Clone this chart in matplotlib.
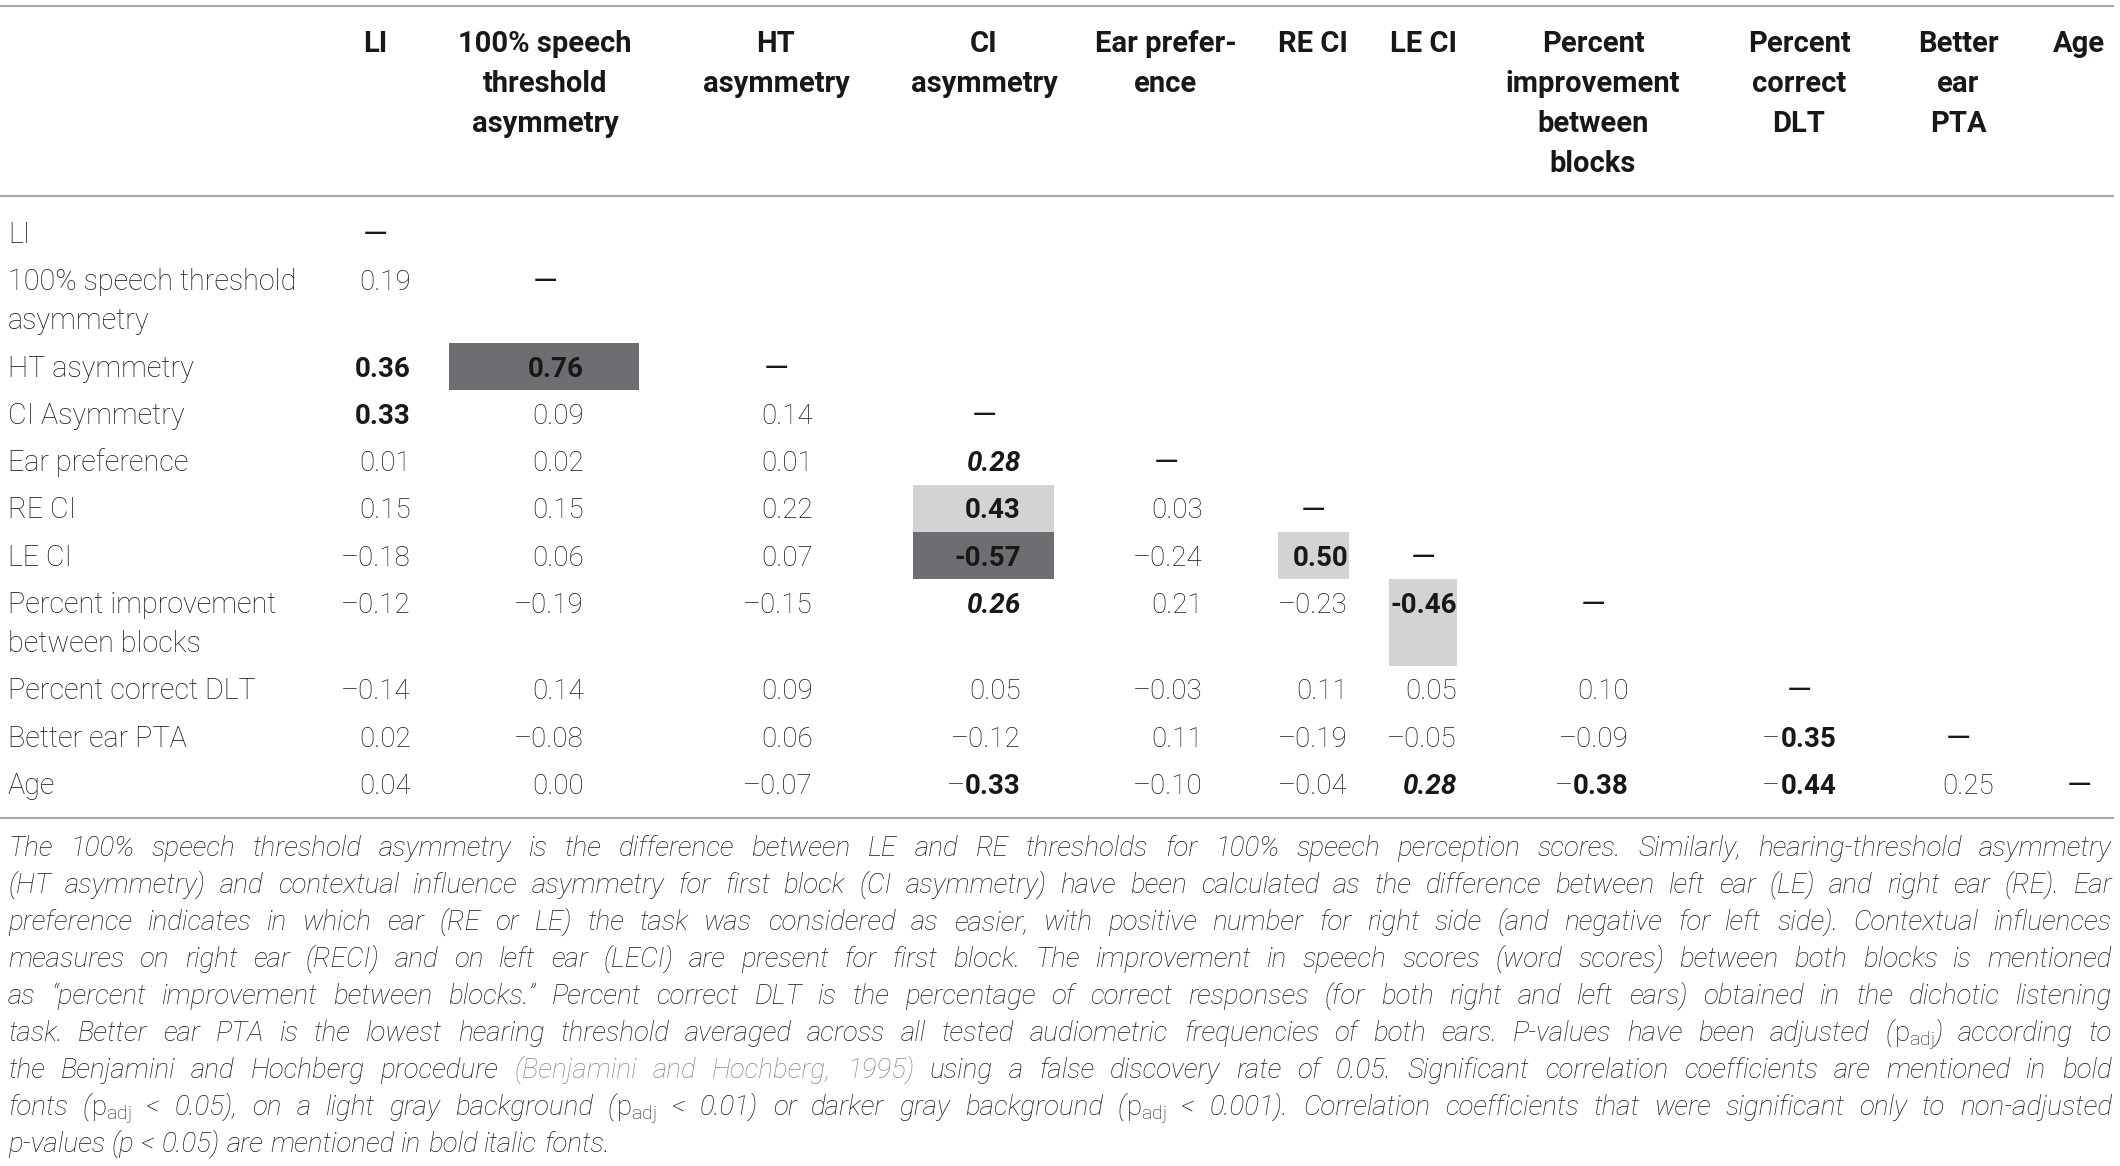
import re
import matplotlib
matplotlib.use("Agg")
import matplotlib.pyplot as plt
from matplotlib.patches import Rectangle

# --- table content -------------------------------------------------------
row_labels = ["LI", "100% speech threshold\nasymmetry", "HT asymmetry", "CI Asymmetry",
              "Ear preference", "RE CI", "LE CI", "Percent improvement\nbetween blocks",
              "Percent correct DLT", "Better ear PTA", "Age"]
col_headers = ["LI", "100% speech\nthreshold\nasymmetry", "HT\nasymmetry", "CI\nasymmetry",
               "Ear prefer-\nence", "RE CI", "LE CI", "Percent\nimprovement\nbetween\nblocks",
               "Percent\ncorrect\nDLT", "Better\near\nPTA", "Age"]

# lower triangle of the correlation matrix (row i, columns 0..i-1)
values = [
    [],
    [0.19],
    [0.36, 0.76],
    [0.33, 0.09, 0.14],
    [0.01, 0.02, 0.01, 0.28],
    [0.15, 0.15, 0.22, 0.43, 0.03],
    [-0.18, 0.06, 0.07, -0.57, -0.24, 0.50],
    [-0.12, -0.19, -0.15, 0.26, 0.21, -0.23, -0.46],
    [-0.14, 0.14, 0.09, 0.05, -0.03, 0.11, 0.05, 0.10],
    [0.02, -0.08, 0.06, -0.12, 0.11, -0.19, -0.05, -0.09, -0.35],
    [0.04, 0.00, -0.07, -0.33, -0.10, -0.04, 0.28, -0.38, -0.44, 0.25],
]
# 0 = n.s., 1 = p < 0.05 unadjusted, 2 = padj < 0.05, 3 = padj < 0.01, 4 = padj < 0.001
significance = [
    [],
    [0],
    [2, 4],
    [2, 0, 0],
    [0, 0, 0, 1],
    [0, 0, 0, 3, 0],
    [0, 0, 0, 4, 0, 3],
    [0, 0, 0, 1, 0, 0, 3],
    [0, 0, 0, 0, 0, 0, 0, 0],
    [0, 0, 0, 0, 0, 0, 0, 0, 2],
    [0, 0, 0, 2, 0, 0, 1, 2, 2, 0],
]

foot_lines = [
    "The 100% speech threshold asymmetry is the difference between LE and RE thresholds for 100% speech perception scores. Similarly, hearing-threshold asymmetry",
    "(HT asymmetry) and contextual influence asymmetry for first block (CI asymmetry) have been calculated as the difference between left ear (LE) and right ear (RE). Ear",
    "preference indicates in which ear (RE or LE) the task was considered as easier, with positive number for right side (and negative for left side). Contextual influences",
    "measures on right ear (RECI) and on left ear (LECI) are present for first block. The improvement in speech scores (word scores) between both blocks is mentioned",
    "as \u201cpercent improvement between blocks.\u201d Percent correct DLT is the percentage of correct responses (for both right and left ears) obtained in the dichotic listening",
    "task. Better ear PTA is the lowest hearing threshold averaged across all tested audiometric frequencies of both ears. P-values have been adjusted ({p}) according to",
    "the Benjamini and Hochberg procedure ~(Benjamini ~and ~Hochberg, ~1995) using a false discovery rate of 0.05. Significant correlation coefficients are mentioned in bold",
    "fonts ({p} < 0.05), on a light gray background ({p} < 0.01) or darker gray background ({p} < 0.001). Correlation coefficients that were significant only to non-adjusted",
    "p-values (p < 0.05) are mentioned in bold italic fonts.",
]

# --- layout (pixels) ------------------------------------------------------
W, H = 2120, 1166
col_center = [375, 545, 776, 984, 1166, 1313, 1423, 1593, 1799, 1958, 2079]
num_right = [411, 584, 813, 1021, 1203, 1348, 1457, 1629, 1836, 1994, 2100]
cell_span = [(340, 412), (449, 639), (700, 852), (913, 1054), (1090, 1240),
             (1278, 1349), (1389, 1457), (1500, 1686), (1720, 1878), (1910, 2005), (2045, 2112)]

INK = "#1a1718"
RULE = "#a7a9ac"
SHADE = {3: "#d1d3d4", 4: "#6d6e71"}
CITE = "#85878a"

FAM = ["Roboto", "DejaVu Sans"]
BODY = dict(fontsize=20, family=FAM, color=INK, va="baseline")
FOOT = dict(fontsize=20, family=FAM, weight="light", va="baseline", ha="left")

fig = plt.figure(figsize=(W / 100, H / 100), dpi=100)
ax = fig.add_axes([0, 0, 1, 1])
ax.set_xlim(0, W)
ax.set_ylim(H, 0)
ax.axis("off")
renderer = fig.canvas.get_renderer()


def width(t):
    return t.get_window_extent(renderer).width


# rules
for y in (6, 196, 818):
    ax.plot([0, 2114], [y, y], color=RULE, lw=1.5, solid_capstyle="butt")

# header
for j, head in enumerate(col_headers):
    for k, line in enumerate(head.split("\n")):
        ax.text(col_center[j], 52 + 40 * k, line, ha="center", weight="bold",
                fontsize=21, family=FAM, color=INK, va="baseline")

# rows
base, pitch, extra = 243, 47.3, 39
y = base
for i, label in enumerate(row_labels):
    n_lines = label.count("\n") + 1
    for k, line in enumerate(label.split("\n")):
        ax.text(8, y + extra * k, line, ha="left", weight="light",
                fontsize=20.7, family=FAM, color=INK, va="baseline")
    top = y - 10 - pitch / 2
    cell_h = pitch + extra * (n_lines - 1)
    for j, (v, s) in enumerate(zip(values[i], significance[i])):
        if s >= 3:
            l, r = cell_span[j]
            ax.add_patch(Rectangle((l, top), r - l, cell_h, color=SHADE[s], lw=0, zorder=0))
            txt = ("-" if v < 0 else "") + f"{abs(v):.2f}"
            ax.text(num_right[j], y, txt, ha="right", weight="bold", **BODY)
        elif s == 2:
            t = ax.text(num_right[j], y, f"{abs(v):.2f}", ha="right", weight="bold", **BODY)
            if v < 0:
                ax.text(num_right[j] - width(t), y, "\u2013", ha="right", weight="light", **BODY)
        elif s == 1:
            ax.text(num_right[j], y, f"{v:.2f}", ha="right", weight="bold", style="italic", **BODY)
        else:
            txt = ("\u2013" if v < 0 else "") + f"{abs(v):.2f}"
            ax.text(num_right[j], y, txt, ha="right", weight="light", **BODY)
    # diagonal dash
    ax.text(col_center[i], y + 1, "\u2014", ha="center", weight="normal",
            fontsize=23, family=FAM, color=INK, va="baseline")
    y += pitch + extra * (n_lines - 1)

# footnote, justified like the printed table
X0, X1 = 8, 2112
a = ax.text(0, 0, "x x", style="italic", **FOOT)
b = ax.text(0, 0, "xx", style="italic", **FOOT)
space = width(a) - width(b)
a.remove()
b.remove()

for n, line in enumerate(foot_lines):
    yb = 856 + 37 * n
    words = []
    for raw in line.split(" "):
        color = CITE if raw.startswith("~") else INK
        raw = raw.lstrip("~")
        parts = []
        for piece in re.split(r"(\{p\})", raw):
            if not piece:
                continue
            if piece == "{p}":
                t = ax.text(0, yb, r"$\mathregular{p_{adj}}$", style="normal", color=color, **FOOT)
            else:
                t = ax.text(0, yb, piece, style="italic", color=color, **FOOT)
            parts.append((t, width(t)))
        words.append(parts)
    total = sum(w for parts in words for _, w in parts)
    last = n == len(foot_lines) - 1
    gap = space if last else (X1 - X0 - total) / (len(words) - 1)
    x = X0
    for parts in words:
        for t, w in parts:
            t.set_x(x)
            x += w
        x += gap

fig.savefig("out.png", dpi=100)
